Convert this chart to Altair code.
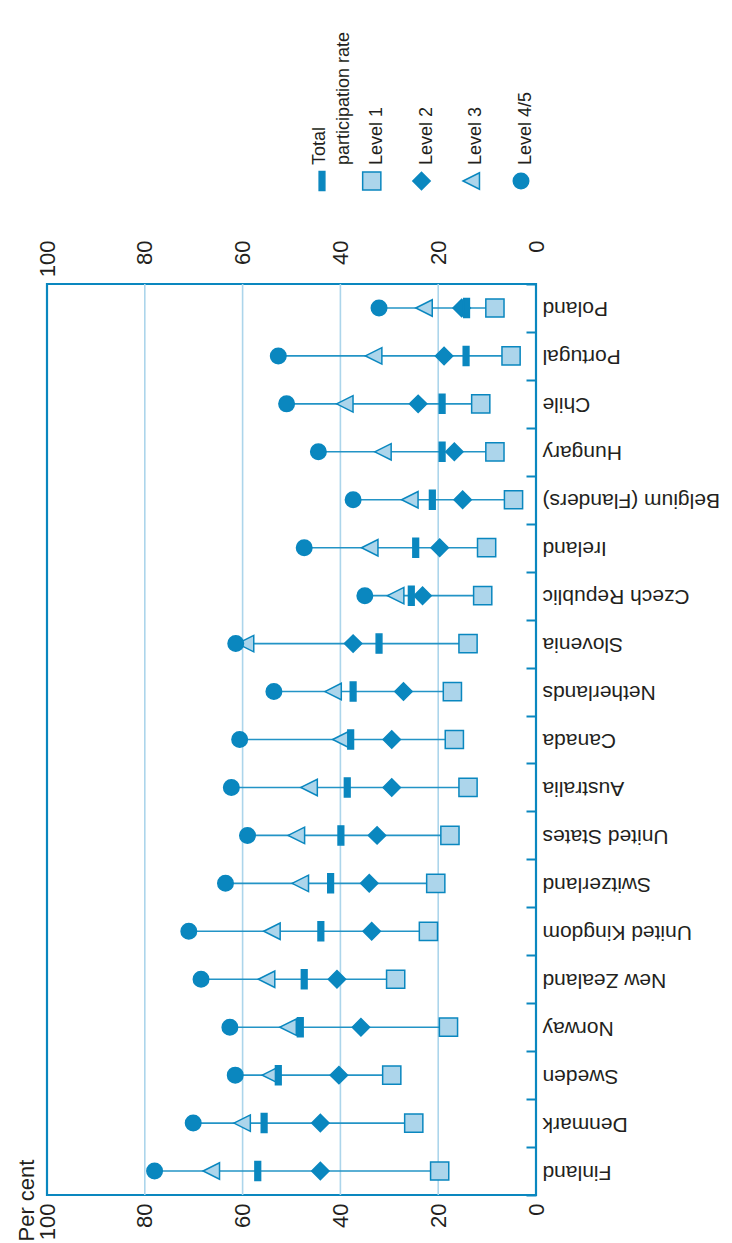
import altair as alt
import pandas as pd

countries = ["Finland", "Denmark", "Sweden", "Norway", "New Zealand", "United Kingdom",
             "Switzerland", "United States", "Australia", "Canada", "Netherlands",
             "Slovenia", "Czech Republic", "Ireland", "Belgium (Flanders)", "Hungary",
             "Chile", "Portugal", "Poland"]
total = [56.9, 55.6, 52.7, 48.2, 47.4, 44.0, 42.0, 39.9, 38.6, 37.9, 37.4,
         32.1, 25.5, 24.6, 21.2, 19.2, 19.2, 14.3, 14.2]
level1 = [19.7, 25.0, 29.5, 17.9, 28.7, 22.0, 20.5, 17.6, 13.9, 16.7, 17.1,
          13.9, 10.9, 10.1, 4.6, 8.4, 11.3, 5.1, 8.4]
level2 = [44.1, 44.1, 40.3, 35.8, 40.7, 33.6, 34.1, 32.5, 29.5, 29.5, 27.1,
          37.4, 23.2, 19.7, 15.0, 16.7, 24.1, 18.8, 15.2]
level3 = [66.4, 60.1, 54.3, 50.7, 55.1, 54.0, 48.2, 49.0, 46.4, 39.9, 41.5,
          59.4, 28.7, 34.0, 25.8, 31.3, 39.1, 33.2, 22.9]
level45 = [78.0, 70.1, 61.5, 62.6, 68.5, 71.0, 63.5, 59.0, 62.3, 60.6, 53.6,
           61.4, 35.0, 47.4, 37.4, 44.5, 51.0, 52.7, 32.1]

series = ["Total participation rate", "Level 1", "Level 2", "Level 3", "Level 4/5"]
legend_labels = ["Total\nparticipation rate", "Level 1", "Level 2", "Level 3", "Level 4/5"]
axis_values = [0, 20, 40, 60, 80, 100]
grid_values = [20, 40, 60, 80]

DARK = "#0a87bf"
LIGHT = "#acd5eb"
LINE = "#2394c6"
TEXT = "#231f20"
FONT = "Liberation Sans"

# long form, in drawing order (squares, diamonds, triangles, bars, circles)
rows = []
for name, vals in [("Level 1", level1), ("Level 2", level2), ("Level 3", level3),
                   ("Total participation rate", total), ("Level 4/5", level45)]:
    for c, v in zip(countries, vals):
        rows.append({"country": c, "series": name, "value": v})
long_df = pd.DataFrame(rows)
grid_df = pd.DataFrame({"g": grid_values})
legend_df = pd.DataFrame({"item": series, "label": legend_labels})

xscale = alt.Scale(domain=[0, 100], reverse=True, nice=False, zero=False)
yscale = alt.Scale(type="band", domain=list(reversed(countries)), paddingInner=0, paddingOuter=0)

shape_scale = alt.Scale(domain=series, range=["M-0.3,-1H0.3V1H-0.3Z", "square", "diamond",
                                              "M-1,0L1,-1L1,1Z", "circle"])
fill_scale = alt.Scale(domain=series, range=[DARK, LIGHT, DARK, LIGHT, DARK])
size_scale = alt.Scale(domain=series, range=[361, 240, 262, 240, 272])

num_axis = dict(values=axis_values, labelAngle=270, labelAlign="right", labelBaseline="middle",
                ticks=False, domain=False, grid=False, labelFont=FONT, labelFontSize=22,
                labelColor=TEXT)

grid = alt.Chart(grid_df).mark_rule(color=LIGHT, strokeWidth=1.6).encode(
    x=alt.X("g:Q", scale=xscale,
            axis=alt.Axis(orient="bottom", labelPadding=8, title="Per cent",
                          titleAngle=270, titleX=-14, titleY=46, titleAlign="left",
                          titleBaseline="alphabetic", titleFont=FONT, titleFontSize=22,
                          titleFontWeight="normal", titleColor=TEXT, **num_axis))
)
top_axis = alt.Chart(grid_df).mark_rule(opacity=0).encode(
    x=alt.X("g:Q", scale=xscale, axis=alt.Axis(orient="top", labelPadding=44, title=None, **num_axis))
)

rules = alt.Chart(long_df).mark_rule(color=LINE, strokeWidth=1.6).encode(
    x=alt.X("min(value):Q", scale=xscale, axis=None),
    x2="max(value):Q",
    y=alt.Y("country:N", scale=yscale,
            axis=alt.Axis(orient="right", offset=-10, domain=False, tickSize=10, tickBand="extent",
                          tickColor=DARK, tickWidth=2, labelAngle=180, labelAlign="right",
                          labelBaseline="middle", labelPadding=6, labelFont=FONT,
                          labelFontSize=21, labelColor=TEXT, title=None, grid=False)),
)

points = alt.Chart(long_df).mark_point(filled=True, stroke=DARK, strokeWidth=1.5, opacity=1).encode(
    x=alt.X("value:Q", scale=xscale, axis=None),
    y=alt.Y("country:N", scale=yscale, axis=None),
    shape=alt.Shape("series:N", scale=shape_scale, legend=None),
    fill=alt.Fill("series:N", scale=fill_scale, legend=None),
    size=alt.Size("series:N", scale=size_scale, legend=None),
)

main = alt.layer(grid, top_axis, rules, points).resolve_axis(x="independent", y="independent")

legend_x = alt.X("item:N", scale=alt.Scale(type="point", domain=series, range=[275, 474],
                                           padding=0), axis=None)
leg_pts = alt.Chart(legend_df).mark_point(filled=True, stroke=DARK, strokeWidth=1.5, opacity=1).encode(
    x=legend_x,
    y=alt.value(-103),
    shape=alt.Shape("item:N", scale=shape_scale, legend=None),
    fill=alt.Fill("item:N", scale=fill_scale, legend=None),
    size=alt.Size("item:N", scale=size_scale, legend=None),
)
leg_txt_levels = alt.Chart(legend_df).transform_filter(
    alt.datum.item != series[0]
).mark_text(angle=270, align="left", baseline="alphabetic", xOffset=10, font=FONT,
            fontSize=18, color=TEXT).encode(x=legend_x, y=alt.value(-119), text="label:N")
leg_txt_total = alt.Chart(legend_df).transform_filter(
    alt.datum.item == series[0]
).mark_text(angle=270, align="left", baseline="alphabetic", xOffset=3, font=FONT,
            fontSize=18, color=TEXT, lineBreak="\n", lineHeight=24).encode(
    x=legend_x, y=alt.value(-119), text="label:N")

legend = alt.layer(leg_pts, leg_txt_levels, leg_txt_total)

chart = alt.layer(main, legend).resolve_scale(x="independent").properties(
    width=489, height=911,
    autosize=alt.AutoSizeParams(type="none"),
    padding={"left": 39, "top": 276, "right": 188, "bottom": 50},
).configure_view(stroke=DARK, strokeWidth=2.2)

chart.save("out.html", embed_options={"renderer": "svg", "actions": False})
